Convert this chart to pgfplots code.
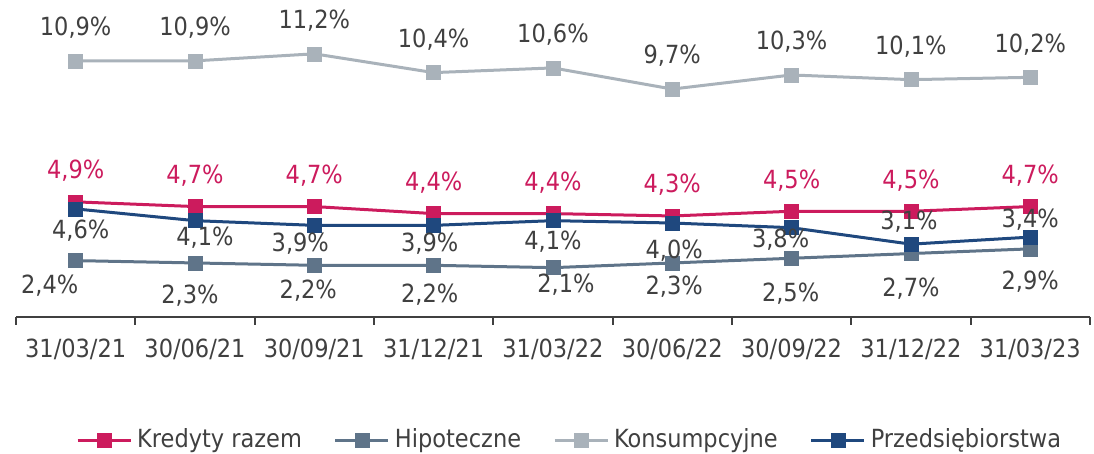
\documentclass[border=0pt]{standalone}
\usepackage{pgfplots}
\pgfplotsset{compat=1.18}
\usepackage{pgfplotstable}
\usepackage{fontspec}
\setmainfont{DejaVu Sans Condensed}
\definecolor{cKred}{HTML}{CC1B5D}
\definecolor{cHip}{HTML}{5F7489}
\definecolor{cKons}{HTML}{A9B2BA}
\definecolor{cPrz}{HTML}{1F487E}
\definecolor{cText}{HTML}{404040}

\pgfplotstableread{
x y dx dy
0 4.9 0 31
1 4.7 0 31
2 4.7 0 31
3 4.4 0 31
4 4.4 0 31
5 4.3 0 31
6 4.5 0 31
7 4.5 0 31
8 4.7 0 31
}\kred
\pgfplotstableread{
x y dx dy
0 2.4 -26 -25
1 2.3 -5 -33
2 2.2 -6 -25
3 2.2 -4 -29.5
4 2.1 13 -17
5 2.3 2 -23.5
6 2.5 -1 -35
7 2.7 0 -35
8 2.9 0 -33
}\hip
\pgfplotstableread{
x y dx dy
0 10.9 0 33
1 10.9 0 33
2 11.2 0 33
3 10.4 0 33
4 10.6 0 33
5 9.7 0 33
6 10.3 0 33
7 10.1 0 33
8 10.2 0 33
}\kons
\pgfplotstableread{
x y dx dy
0 4.6 5 -21.5
1 4.1 10 -17
2 3.9 -14 -18
3 3.9 -4 -18
4 4.1 0 -21
5 4.0 2 -28
6 3.8 -11 -11.5
7 3.1 -2 22.5
8 3.4 0 17.5
}\prz

\begin{document}
\fontsize{25bp}{30bp}\selectfont
\begin{tikzpicture}[font=\fontsize{25bp}{30bp}\selectfont]
\path[use as bounding box] (0,0) rectangle (1094bp,-454bp);
\begin{axis}[
  at={(16bp,-317bp)}, anchor=south west,
  scale only axis, width=1074bp, height=317bp,
  xmin=-0.5, xmax=8.5, ymin=0, ymax=13.49,
  clip=false,
  axis x line=bottom, axis y line=none,
  x axis line style={-, draw=cText, line width=2bp},
  xtick={0,...,8},
  xticklabels={31/03/21,30/06/21,30/09/21,31/12/21,31/03/22,30/06/22,30/09/22,31/12/22,31/03/23},
  minor xtick={-0.5,0.5,...,8.5},
  major tick length=0pt,
  minor tick length=7.5bp,
  tick align=outside,
  xtick pos=bottom,
  every minor tick/.style={draw=cText, line width=2bp},
  xticklabel style={anchor=center, yshift=-32bp, text=cText},
  /pgf/number format/assume math mode=true,
  nodes near coords={\pgfmathprintnumber[fixed,fixed zerofill,precision=1,use comma]{\pgfplotspointmeta}\%},
  point meta=y,
  visualization depends on={\thisrow{dx} \as \dx},
  visualization depends on={\thisrow{dy} \as \dy},
  nodes near coords style={anchor=center, xshift=\dx*1bp, yshift=\dy*1bp, text=cText},
  every axis plot/.append style={line width=3bp, mark=square*, mark size=7bp, mark options={solid, line width=0.5bp}},
  legend image code/.code={\draw[mark repeat=2,mark phase=2,#1] plot coordinates {(0bp,0bp) (26.5bp,0bp) (53bp,0bp)};},
  legend style={at={(0.517,-0.388)}, anchor=center, draw=none, fill=none,
    legend columns=4, text=cText, inner sep=0pt,
    /tikz/every even column/.append style={column sep=27bp},
    nodes={inner sep=5bp}},
  legend cell align=left,
]
\addplot[cKred, nodes near coords style={text=cKred}] table[x=x,y=y] {\kred};
\addplot[cHip] table[x=x,y=y] {\hip};
\addplot[cKons] table[x=x,y=y] {\kons};
\addplot[cPrz] table[x=x,y=y] {\prz};
\legend{Kredyty razem, Hipoteczne, Konsumpcyjne, Przedsiębiorstwa}
\end{axis}
\end{tikzpicture}
\end{document}
